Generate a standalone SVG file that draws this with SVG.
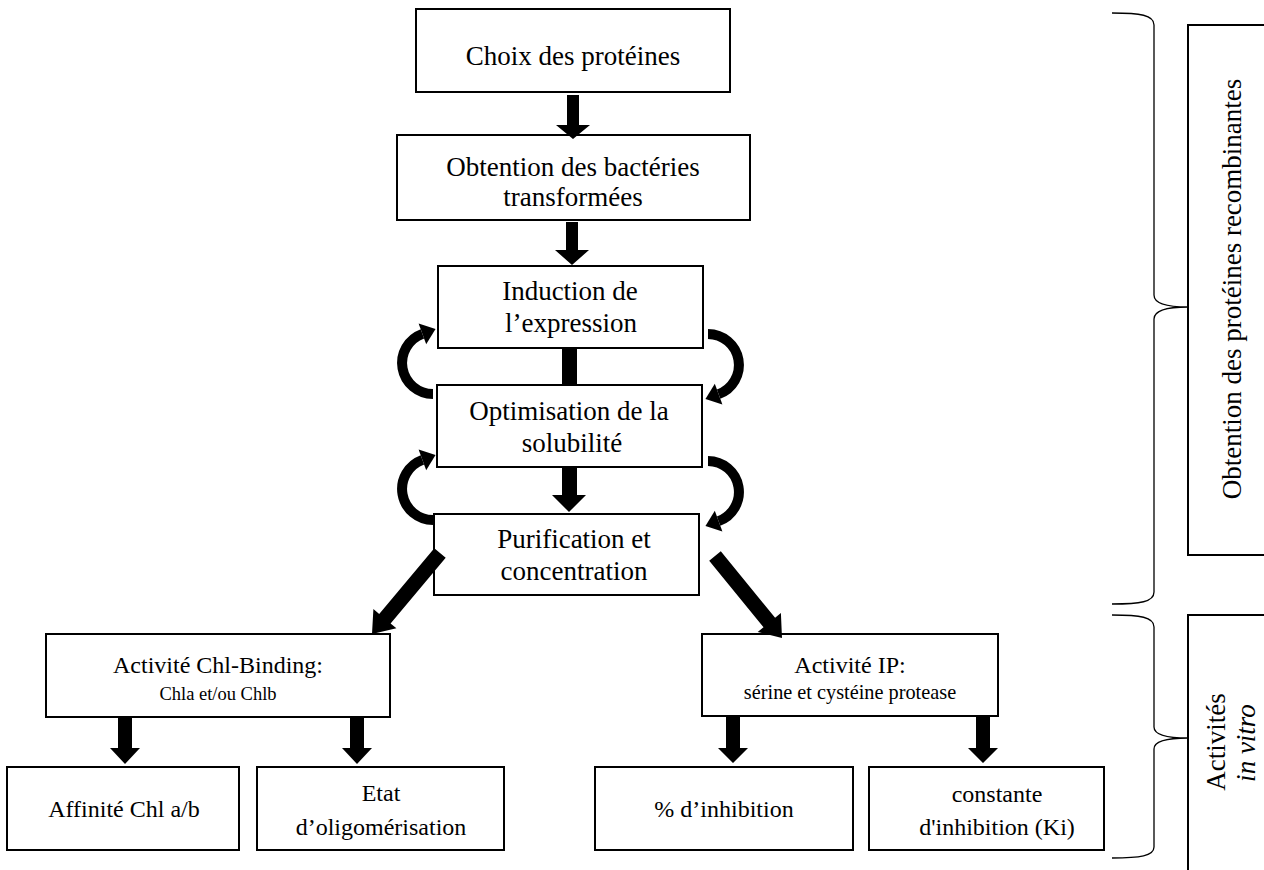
<svg xmlns="http://www.w3.org/2000/svg" width="1264" height="870" viewBox="0 0 1264 870">
<defs>
<style>
.box{fill:#fff;stroke:#000;stroke-width:2}
.t{font-family:"Liberation Serif","Times New Roman",serif;fill:#000;text-anchor:middle}
.big{font-size:27px}
.mid{font-size:24px}
.brace{fill:none;stroke:#000;stroke-width:1.3}
.arr{fill:#000;stroke:none}
.curve{fill:none;stroke:#000;stroke-width:10}
</style>
<marker id="head" markerUnits="userSpaceOnUse" markerWidth="14" markerHeight="22" refX="0" refY="11" orient="auto" overflow="visible">
<path d="M0,0 L14,11 L0,22 z" fill="#000"/>
</marker>
</defs>
<rect width="1264" height="870" fill="#fff"/>

<g id="n1"><rect class="box" x="416" y="9" width="314" height="83"/><text class="t big" x="573" y="65">Choix des protéines</text></g>
<g id="n2"><rect class="box" x="397" y="135" width="353" height="85"/><text class="t big" x="573" y="176">Obtention des bactéries</text><text class="t big" x="573" y="206">transformées</text></g>
<g id="n3"><rect class="box" x="438" y="266" width="265" height="82"/><text class="t big" x="570" y="300">Induction de</text><text class="t big" x="571" y="332">l’expression</text></g>
<g id="n4"><rect class="box" x="437" y="385" width="265" height="82"/><text class="t big" x="569" y="420">Optimisation de la</text><text class="t big" x="572" y="452">solubilité</text></g>
<g id="n5"><rect class="box" x="434" y="514" width="265" height="81"/><text class="t big" x="574" y="548">Purification et</text><text class="t big" x="574" y="580">concentration</text></g>
<g id="n6"><rect class="box" x="46" y="634" width="344" height="83"/><text class="t mid" x="218" y="673">Activité Chl-Binding:</text><text class="t" font-size="18.5" x="218" y="700">Chla et/ou Chlb</text></g>
<g id="n7"><rect class="box" x="702" y="634" width="296" height="82"/><text class="t mid" x="850" y="673">Activité IP:</text><text class="t" font-size="20.3" x="850" y="699">sérine et cystéine protease</text></g>
<g id="n8"><rect class="box" x="7" y="767" width="232" height="83"/><text class="t mid" x="124" y="817">Affinité Chl a/b</text></g>
<g id="n9"><rect class="box" x="257" y="767" width="247" height="83"/><text class="t mid" x="381" y="801">Etat</text><text class="t mid" x="381" y="835">d’oligomérisation</text></g>
<g id="n10"><rect class="box" x="595" y="767" width="258" height="83"/><text class="t mid" x="724" y="817">% d’inhibition</text></g>
<g id="n11"><rect class="box" x="869" y="767" width="235" height="83"/><text class="t mid" x="997" y="802">constante</text><text class="t mid" x="997" y="835">d'inhibition (Ki)</text></g>
<g id="n12"><rect class="box" x="1188" y="25" width="100" height="530"/><text class="t big" transform="translate(1241,289) rotate(-90)">Obtention des protéines recombinantes</text></g>
<g id="n13"><rect class="box" x="1188" y="615" width="100" height="300"/><text class="t big" transform="translate(1225,742) rotate(-90)">Activités</text><text class="t big" font-style="italic" transform="translate(1255,743) rotate(-90)">in vitro</text></g>

<g id="braces">
<path class="brace" d="M1112,13 C1140,13 1154,15 1154,25 L1154,295 C1154,305 1170,307 1188,307 C1170,307 1154,309 1154,319 L1154,592 C1154,602 1140,604 1112,604"/>
<path class="brace" d="M1112,615 C1140,615 1154,617 1154,627 L1154,727 C1154,736 1170,738 1188,738 C1170,738 1154,740 1154,749 L1154,847 C1154,856 1140,858 1112,858"/>
</g>

<g id="connectors">
<polygon class="arr" points="567,95 579,95 579,125 590,125 573,139 556,125 567,125"/>
<polygon class="arr" points="566,222 578,222 578,250 589,250 572,265 555,250 566,250"/>
<rect class="arr" x="562" y="349" width="15" height="36"/>
<polygon class="arr" points="562,468 577,468 577,495 586,495 569,512 552,495 562,495"/>
<polygon class="arr" points="434.3,548.2 379.2,613.9 373.4,609.1 372,634 396.4,628.3 390.6,623.5 445.7,557.8"/>
<polygon class="arr" points="720.8,551.3 775.1,617.8 780.9,613 782,638 757.7,632 763.5,627.2 709.2,560.7"/>
<polygon class="arr" points="118,718 132,718 132,748 140,748 125,764 110,748 118,748"/>
<polygon class="arr" points="350,718 364,718 364,748 372,748 357,764 342,748 350,748"/>
<polygon class="arr" points="726,717 740,717 740,748 748,748 733,763 718,748 726,748"/>
<polygon class="arr" points="976,717 990,717 990,748 998,748 983,763 968,748 976,748"/>
<path class="curve" d="M433,394 A31,31 0 0 1 422.4,333.9" marker-end="url(#head)"/>
<path class="curve" d="M708,334 A31,31 0 0 1 718.6,394.1" marker-end="url(#head)"/>
<path class="curve" d="M433,520 A31,31 0 0 1 422.4,459.9" marker-end="url(#head)"/>
<path class="curve" d="M708,461 A31,31 0 0 1 718.6,521.1" marker-end="url(#head)"/>
</g>
</svg>
